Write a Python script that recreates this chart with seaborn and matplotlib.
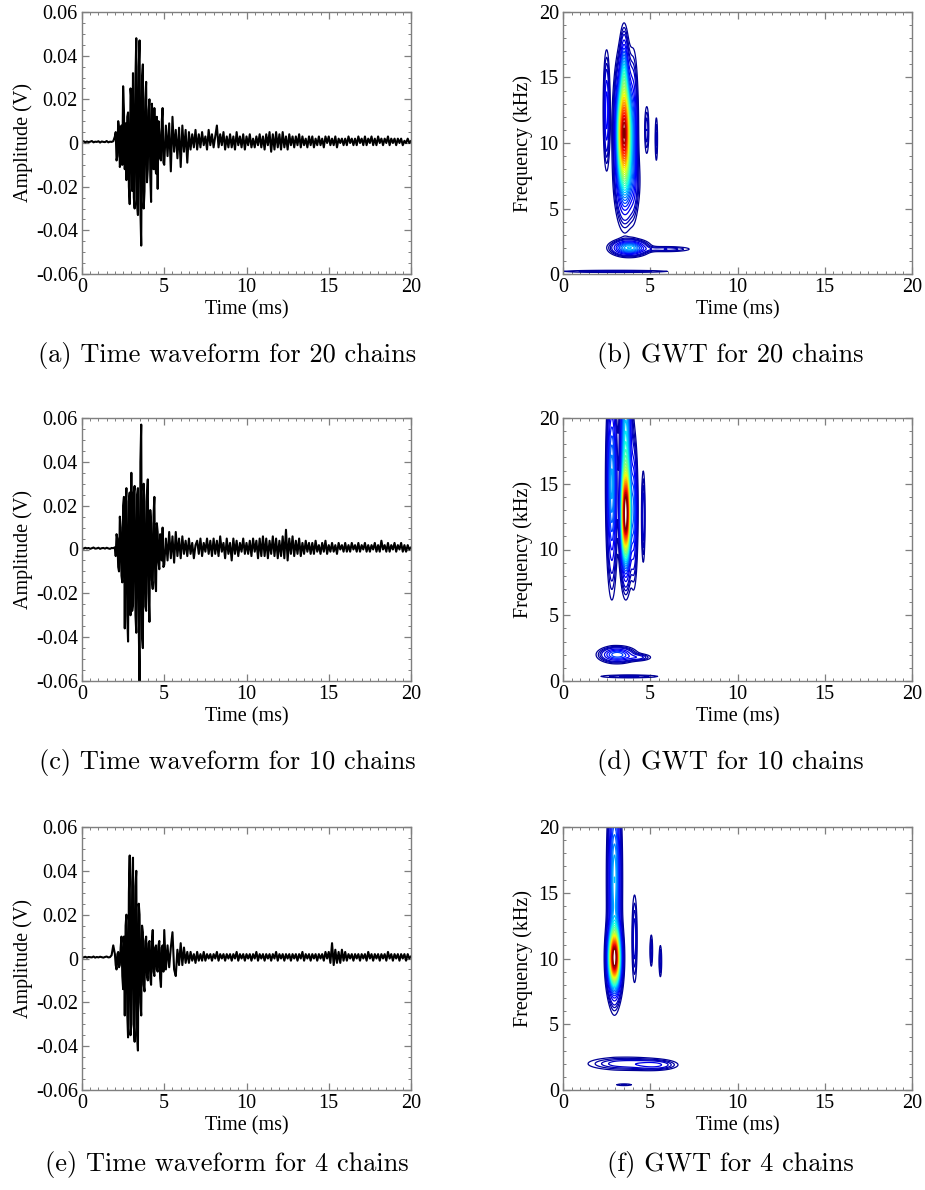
import numpy as np
import matplotlib
matplotlib.use("Agg")
import matplotlib.pyplot as plt
import seaborn as sns
from matplotlib.ticker import MultipleLocator, FuncFormatter

# waveforms, one sample every 0.1 ms (0..20 ms), amplitude in mV
time_ms = np.linspace(0, 20, 201)

wave_20 = [
    0.5, 0.8, 0.3, 0.7, 0.4, 0.6, 0.9, 0.3, 0.6, 0.5,
    0.8, 0.2, 0.7, 0.5, 0.4, 0.9, 0.3, 0.6, 0.5, 0.8,
    3, -8, 10, -11, 8, 26, -12, -17, 14, -28,
    20, 32, -30, 48, -33, 47, -47, 36, -22, 28,
    -12, 20, -27, 9, 16, -14, -21, 5, -8, 16,
    -10, 8, -6, 9, -13, 12, -4, 6, -7, 7,
    -11, 8, -4, 6, -9, 5, -3, 4, -2, 6,
    -3, 4, -2, 5, -1, 3, -3, 6, -1, 4,
    -2, 3, 8, -2, 4, -1, 5, -3, 3, -2,
    4, -2, 3, -3, 5, -1, 3, -2, 4, -3,
    3, -1, 4, -2, 2, -2, 3, -1, 4, -2,
    3, -3, 4, -1, 5, -4, 4, -3, 5, -2,
    4, -3, 5, -2, 3, -3, 4, -1, 3, -2,
    3, -1, 4, -2, 3, -1, 2, -2, 3, -1,
    3, -2, 2, -1, 3, -1, 2, -2, 3, 0,
    3, -1, 2, -1, 3, -2, 2, 0, 2, -1,
    2, -1, 3, 0, 2, -1, 2, -1, 3, 0,
    2, -1, 3, -1, 2, 0, 3, -1, 2, -1,
    3, 0, 2, -1, 2, 0, 3, -1, 2, 0,
    2, -1, 2, 0, 2, -1, 1, 0, 2, 0,
    1,
]

wave_10 = [
    0.6, 0.4, 0.8, 0.5, 0.7, 0.3, 0.6, 0.9, 0.4, 0.5,
    0.8, 0.3, 0.6, 0.7, 0.4, 0.8, 0.5, 0.3, 0.7, 0.6,
    1, 7, -8, 15, -12, 20, -36, 28, -42, 26,
    35, -25, 29, -38, 28, -61, 57, -45, 22, -28,
    32, -33, 12, -18, 24, -19, 8, -9, 6, 10,
    -7, 5, -5, 8, -4, 6, -6, 8, -3, 5,
    -4, 6, -2, 4, -3, 5, -2, 3, -4, 2,
    4, -2, 5, -3, 3, -1, 5, -2, 4, -3,
    5, -2, 4, -3, 6, -1, 3, -4, 5, -2,
    3, -5, 5, -2, 4, -3, 3, -1, 5, -2,
    3, -2, 4, -3, 5, -1, 4, -4, 5, -3,
    6, -3, 5, -4, 4, -2, 6, -3, 5, -4,
    4, -3, 6, -4, 9, -5, 5, -2, 6, -3,
    4, -2, 5, -3, 3, -2, 4, -1, 3, -2,
    3, -2, 4, -1, 2, -2, 3, -1, 4, -2,
    2, -1, 3, -1, 2, -2, 3, 0, 2, -1,
    3, -1, 2, -1, 3, 0, 2, -1, 3, -1,
    2, 0, 3, -1, 2, -1, 2, 0, 3, -1,
    2, -1, 4, 0, 2, -1, 3, -1, 2, 0,
    3, -1, 2, 0, 3, -1, 2, -1, 2, 0,
    1,
]

wave_4 = [
    0.6, 0.5, 0.8, 0.4, 0.7, 0.6, 0.5, 0.9, 0.4, 0.7,
    0.5, 0.8, 0.6, 0.4, 0.7, 0.9, 0.5, 0.6, 1.5, 6,
    2, -5, 3, -3, 10, -14, -26, 20, -36, 47,
    -30, 46, -38, 40, -42, 20, -26, 12, -15, 10,
    -10, 8, -12, 13, -8, 6, -6, 8, -13, 6,
    13, -5, 6, -4, 5, 12, -5, -8, 4, -3,
    7, -3, 5, -2, 3, -2, 3, -1, 2, -2,
    3, -1, 2, -1, 3, -1, 2, 0, 2, -1,
    2, 0, 3, -1, 2, 0, 2, -1, 2, 0,
    2, -1, 2, 0, 3, -1, 2, 0, 2, -1,
    2, 0, 2, -1, 2, 0, 3, -1, 2, 0,
    2, -1, 2, 0, 2, -1, 2, 0, 3, -1,
    2, 0, 2, -1, 2, 0, 2, -1, 2, 0,
    2, -1, 2, 0, 3, -1, 2, 0, 2, -1,
    2, 0, 2, -1, 2, 0, 2, -1, 3, 0,
    3, -2, 7, -3, 4, -2, 3, -2, 4, -1,
    3, -1, 2, 0, 2, -1, 2, 0, 2, -1,
    2, 0, 2, -1, 3, 0, 2, -1, 2, 0,
    2, -1, 2, 0, 2, -1, 3, 0, 2, -1,
    2, 0, 2, -1, 2, 0, 2, -1, 2, 0,
    1,
]

# extra half-step samples inside the burst (2.05 .. 4.95 ms), mV
burst_time = np.linspace(2.05, 4.95, 30)
burst_20 = [5, -6, 7, -9, -10, 15, 9, 12, -20, 25,
            -22, -25, 30, -28, 35, -31, 30, -30, 20, -18,
            15, -15, 18, -12, -10, 12, 10, -7, 10, -9]
burst_10 = [-3, 5, -10, 10, -15, 24, 20, -30, 22, -30,
            -28, 26, -30, 25, -35, 40, -40, 30, -26, 25,
            -20, 18, -14, 16, -15, 12, -6, 7, -5, -8]
burst_4 = [-3, 2, -4, 5, -8, 10, 15, -25, 30, -35,
           35, -30, 33, -35, 25, -20, 15, -12, 8, -8,
           7, -9, 8, -6, 5, -5, 6, -9, 5, -6]

# GWT energy spots: time (ms), freq (kHz), spread, relative level
gwt20_t = [3.5, 3.5, 2.5, 3.7, 4.05, 4.8, 5.35, 3.8, 5.9, 3.0]
gwt20_f = [10.8, 15.5, 12.5, 7.0, 11.0, 11.0, 10.3, 2.0, 1.9, 0.2]
gwt20_wt = [0.25, 0.12, 0.1, 0.35, 0.14, 0.08, 0.05, 0.55, 0.9, 2.2]
gwt20_wf = [2.6, 1.6, 2.3, 1.6, 3.0, 1.2, 1.2, 0.32, 0.13, 0.06]
gwt20_amp = [1.0, 0.2, 0.15, 0.14, 0.13, 0.06, 0.05, 0.32, 0.06, 0.05]

gwt10_t = [3.6, 3.6, 2.8, 4.05, 4.6, 3.1, 4.3, 3.8]
gwt10_f = [12.5, 18.0, 15.0, 13.0, 12.5, 2.0, 1.8, 0.35]
gwt10_wt = [0.16, 0.18, 0.16, 0.12, 0.06, 0.55, 0.45, 1.2]
gwt10_wf = [2.2, 4.0, 3.8, 2.8, 2.0, 0.32, 0.16, 0.08]
gwt10_amp = [1.0, 0.35, 0.3, 0.2, 0.09, 0.22, 0.07, 0.05]

gwt4_t = [2.95, 2.95, 4.1, 5.06, 5.58, 3.6, 5.3, 3.5]
gwt4_f = [10.0, 16.0, 11.5, 10.6, 9.8, 2.0, 1.9, 0.4]
gwt4_wt = [0.21, 0.2, 0.09, 0.05, 0.05, 1.3, 0.7, 0.4]
gwt4_wf = [1.4, 4.0, 2.0, 0.8, 0.8, 0.3, 0.22, 0.06]
gwt4_amp = [1.0, 0.32, 0.08, 0.06, 0.06, 0.08, 0.08, 0.035]

captions_left = ["(a) Time waveform for 20 chains", "(c) Time waveform for 10 chains",
                 "(e) Time waveform for 4 chains"]
captions_right = ["(b) GWT for 20 chains", "(d) GWT for 10 chains", "(f) GWT for 4 chains"]

sns.set_style("ticks")
plt.rcParams['font.family'] = ['Liberation Serif', 'DejaVu Serif']
plt.rcParams['axes.unicode_minus'] = False
plt.rcParams['text.color'] = 'black'
plt.rcParams['axes.labelcolor'] = 'black'

FRAME = '#7f7f7f'


def style_axes(ax):
    for s in ax.spines.values():
        s.set_color(FRAME)
        s.set_linewidth(1.0)
    ax.tick_params(which='both', direction='in', top=True, right=True, color=FRAME,
                   labelsize=14.5, labelcolor='black', pad=3)
    ax.tick_params(which='major', length=5, width=0.9)
    ax.tick_params(which='minor', length=2.5, width=0.7)
    ax.set_xlim(0, 20)
    ax.xaxis.set_major_locator(MultipleLocator(5))
    ax.xaxis.set_minor_locator(MultipleLocator(0.5))
    ax.set_xlabel('Time (ms)', fontsize=14.5, labelpad=2)


def amp_fmt(v, pos):
    return '0' if abs(v) < 1e-9 else f'{v:.2f}'


def gwt_field(t0s, f0s, wts, wfs, amps, tt, ff):
    z = np.zeros_like(tt)
    for t0, f0, wt, wf, a in zip(t0s, f0s, wts, wfs, amps):
        z += a * np.exp(-0.5 * (((tt - t0) / wt) ** 2 + ((ff - f0) / wf) ** 2))
    return z


fig = plt.figure(figsize=(9.25, 11.9), dpi=100)

rows_px = [(12, 274), (418, 681), (827, 1090)]
cap_px = [355, 762, 1165]
waves = [(wave_20, burst_20), (wave_10, burst_10), (wave_4, burst_4)]
gwts = [
    (gwt20_t, gwt20_f, gwt20_wt, gwt20_wf, gwt20_amp),
    (gwt10_t, gwt10_f, gwt10_wt, gwt10_wf, gwt10_amp),
    (gwt4_t, gwt4_f, gwt4_wt, gwt4_wf, gwt4_amp),
]

tgrid = np.linspace(0, 20, 1001)
fgrid = np.linspace(0, 20, 401)
tt, ff = np.meshgrid(tgrid, fgrid)
levels = np.concatenate([[0.02, 0.032, 0.045], np.linspace(0.06, 1.0, 30)])

for i, (top, bot) in enumerate(rows_px):
    y0 = 1 - bot / 1190
    h = (bot - top) / 1190

    # time waveform
    wave, burst = waves[i]
    t_all = np.concatenate([time_ms, burst_time])
    v_all = np.concatenate([wave, burst]) / 1000
    order = np.argsort(t_all)
    ax = fig.add_axes([82 / 925, y0, (411 - 82) / 925, h])
    sns.lineplot(x=t_all[order], y=v_all[order], ax=ax, color='black',
                 linewidth=1.5, estimator=None, sort=False)
    style_axes(ax)
    ax.set_ylim(-0.06, 0.06)
    ax.yaxis.set_major_locator(MultipleLocator(0.02))
    ax.yaxis.set_minor_locator(MultipleLocator(0.005))
    ax.yaxis.set_major_formatter(FuncFormatter(amp_fmt))
    ax.set_ylabel('Amplitude (V)', fontsize=14.5, labelpad=2)

    # GWT contour map
    ax2 = fig.add_axes([563 / 925, y0, (912 - 563) / 925, h])
    z = gwt_field(*gwts[i], tt, ff)
    ax2.contour(tt, ff, z, levels=levels, cmap='jet', vmin=0, vmax=1, linewidths=0.9)
    style_axes(ax2)
    ax2.set_ylim(0, 20)
    ax2.yaxis.set_major_locator(MultipleLocator(5))
    ax2.yaxis.set_minor_locator(MultipleLocator(1))
    ax2.set_ylabel('Frequency (kHz)', fontsize=14.5, labelpad=4)

    yc = 1 - cap_px[i] / 1190
    fig.text(227 / 925, yc, captions_left[i], ha='center', va='center',
             fontsize=19, family='cmr10', color='black')
    fig.text(730 / 925, yc, captions_right[i], ha='center', va='center',
             fontsize=19, family='cmr10', color='black')

fig.savefig('out.png', dpi=100, facecolor='white')
